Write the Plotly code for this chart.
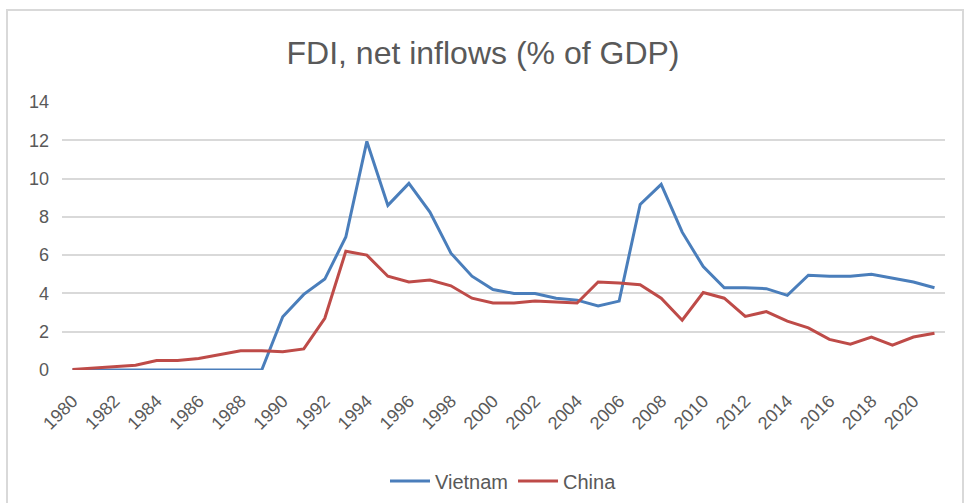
import plotly.graph_objects as go

years = list(range(1980, 2022))
vietnam = [0.0, 0.0, 0.0, 0.0, 0.0, 0.0, 0.0, 0.0, 0.0, 0.0,
           2.78, 3.95, 4.75, 6.95, 11.94, 8.6, 9.75, 8.25, 6.1, 4.9,
           4.2, 4.0, 4.0, 3.75, 3.65, 3.35, 3.6, 8.65, 9.7, 7.2,
           5.4, 4.3, 4.3, 4.25, 3.9, 4.95, 4.9, 4.9, 5.0, 4.8,
           4.6, 4.3]
china = [0.03, 0.1, 0.17, 0.25, 0.5, 0.5, 0.6, 0.8, 1.0, 1.0,
         0.95, 1.1, 2.7, 6.2, 6.0, 4.9, 4.6, 4.7, 4.4, 3.75,
         3.5, 3.5, 3.6, 3.55, 3.5, 4.6, 4.55, 4.45, 3.75, 2.6,
         4.05, 3.75, 2.8, 3.05, 2.55, 2.2, 1.6, 1.35, 1.72, 1.3,
         1.72, 1.92]
tick_years = list(range(1980, 2021, 2))
tick_labels = [str(y) for y in tick_years]
y_ticks = [0, 2, 4, 6, 8, 10, 12, 14]

W, H = 966, 503
L, R, T, B = 62, 21, 102, 133
pw, ph = W - L - R, H - T - B

def px(x):
    return (x - L) / pw

def py(y):
    return (H - B - y) / ph

fig = go.Figure()
fig.add_trace(go.Scatter(x=years, y=vietnam, name="Vietnam", mode="lines",
                         line=dict(color="#4a7ebb", width=3)))
fig.add_trace(go.Scatter(x=years, y=china, name="China", mode="lines",
                         line=dict(color="#be4b48", width=3)))

fig.update_layout(
    width=W, height=H,
    margin=dict(l=L, r=R, t=T, b=B, autoexpand=False),
    paper_bgcolor="white", plot_bgcolor="white",
    font=dict(family="Liberation Sans, Arial, sans-serif", color="#595959"),
    title=dict(text="FDI, net inflows (% of GDP)", x=0.5, xanchor="center",
               y=1 - 53 / H, yanchor="middle",
               font=dict(size=32, color="#595959")),
    xaxis=dict(range=[1979.5, 2021.5], tickmode="array", tickvals=tick_years,
               ticktext=tick_labels, tickangle=-45, showgrid=False,
               showline=False, zeroline=False, ticks="", automargin=False,
               tickfont=dict(size=18, color="#595959"), ticklabelstandoff=16),
    yaxis=dict(range=[0, 14], tickmode="array", tickvals=y_ticks,
               showgrid=True, gridcolor="#d9d9d9", gridwidth=1.5,
               zeroline=False, showline=False, ticks="", automargin=False,
               tickfont=dict(size=18, color="#595959"), ticklabelstandoff=12),
    legend=dict(orientation="h", x=0.5, xanchor="center", y=py(481),
                yanchor="middle", font=dict(size=20, color="#595959"),
                itemwidth=40, tracegroupgap=0),
    showlegend=True,
    shapes=[dict(type="rect", xref="paper", yref="paper",
                 x0=px(7), x1=px(963), y0=py(510), y1=py(10),
                 line=dict(color="#d9d9d9", width=2), layer="below")],
)

fig.write_html("out.html")
